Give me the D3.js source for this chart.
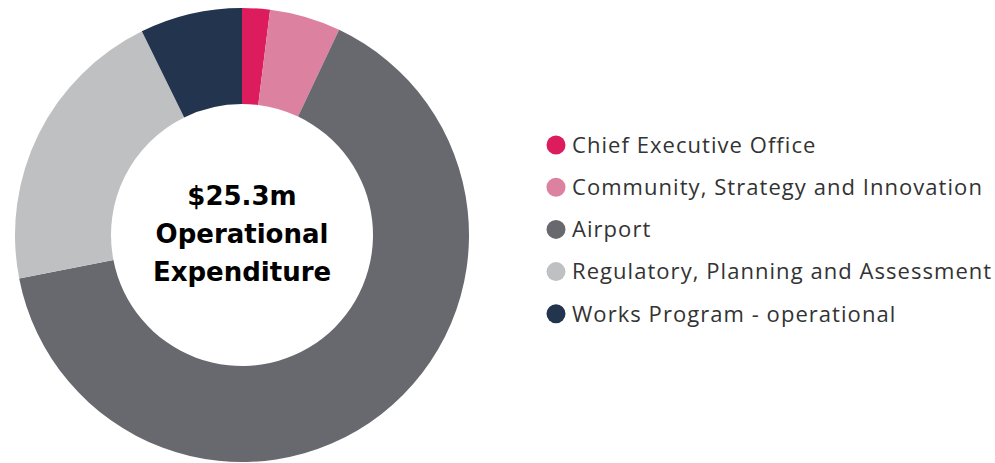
<!DOCTYPE html>
<html>
<head>
<meta charset="utf-8">
<script src="https://cdn.jsdelivr.net/npm/d3@7"></script>
<style>
  body { margin: 0; background: #fff; }
  svg { display: block; }
</style>
</head>
<body>
<div id="chart"></div>
<script>
var svgWidth = 995;
var svgHeight = 463;

// Operational expenditure by directorate ($m, total 25.3)
var categories = [
    "Chief Executive Office",
    "Community, Strategy and Innovation",
    "Airport",
    "Regulatory, Planning and Assessment",
    "Works Program - operational"
];
var values = [0.50, 1.28, 16.42, 5.26, 1.84];
var colors = ["#dd1c5e", "#dd81a1", "#68696e", "#bfc0c2", "#22344e"];
var centerLines = ["$25.3m", "Operational", "Expenditure"];

var cx = 242, cy = 235;
var outerR = 227, innerR = 131;

var svg = d3.select("#chart")
    .append("svg")
    .attr("width", svgWidth)
    .attr("height", svgHeight);

var pieGroup = svg.append("g")
    .attr("transform", `translate(${cx}, ${cy})`);

var pie = d3.pie().sort(null);
var arc = d3.arc().innerRadius(innerR).outerRadius(outerR);

pieGroup.selectAll("path")
    .data(pie(values))
    .enter()
    .append("path")
    .attr("d", arc)
    .attr("fill", (d, i) => colors[i]);

// centre label
pieGroup.selectAll("text.center")
    .data(centerLines)
    .enter()
    .append("text")
    .attr("class", "center")
    .attr("text-anchor", "middle")
    .attr("x", 0)
    .attr("y", (d, i) => -30 + i * 38)
    .style("font-family", "'DejaVu Sans', sans-serif")
    .style("font-weight", "700")
    .style("font-size", "26px")
    .style("fill", "#000")
    .text(d => d);

// legend
var legend = svg.append("g")
    .attr("transform", "translate(556, 145)");

var rows = legend.selectAll("g")
    .data(categories)
    .enter()
    .append("g")
    .attr("transform", (d, i) => `translate(0, ${i * 42.2})`);

rows.append("circle")
    .attr("r", 9.5)
    .attr("fill", (d, i) => colors[i]);

rows.append("text")
    .attr("x", 16)
    .attr("dy", "0.35em")
    .style("font-family", "'Open Sans', sans-serif")
    .style("font-size", "22px")
    .style("letter-spacing", "1.05px")
    .style("fill", "#333")
    .text(d => d);
</script>
</body>
</html>
